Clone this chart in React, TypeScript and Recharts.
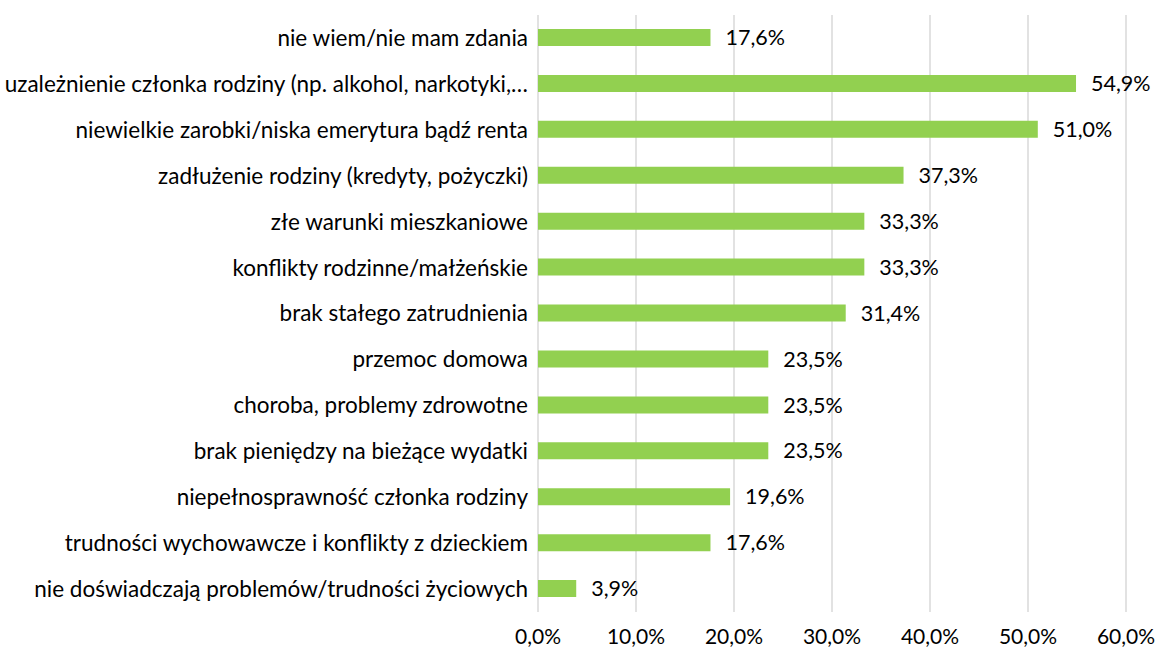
import { BarChart, Bar, XAxis, YAxis, CartesianGrid, LabelList } from 'recharts';

const categories = [
  'nie wiem/nie mam zdania',
  'uzależnienie członka rodziny (np. alkohol, narkotyki,…',
  'niewielkie zarobki/niska emerytura bądź renta',
  'zadłużenie rodziny (kredyty, pożyczki)',
  'złe warunki mieszkaniowe',
  'konflikty rodzinne/małżeńskie',
  'brak stałego zatrudnienia',
  'przemoc domowa',
  'choroba, problemy zdrowotne',
  'brak pieniędzy na bieżące wydatki',
  'niepełnosprawność członka rodziny',
  'trudności wychowawcze i konflikty z dzieckiem',
  'nie doświadczają problemów/trudności życiowych',
];

const values = [17.6, 54.9, 51.0, 37.3, 33.3, 33.3, 31.4, 23.5, 23.5, 23.5, 19.6, 17.6, 3.9];

const xTicks = [0, 10, 20, 30, 40, 50, 60];

const data = categories.map((name, i) => ({ name, value: values[i] }));

const pct = (v: number) => `${v.toFixed(1).replace('.', ',')}%`;

const FONT = 'Lato, "Open Sans", sans-serif';

export default function App() {
  return (
    <div style={{ position: 'absolute', left: 0, top: 0, background: '#fff', fontFamily: FONT }}>
      <BarChart
        width={1158}
        height={653}
        data={data}
        layout="vertical"
        margin={{ top: 15, right: 32, bottom: 0, left: 0 }}
        barCategoryGap={0}
      >
        <CartesianGrid horizontal={false} stroke="#d9d9d9" strokeWidth={1.5} />
        <XAxis
          type="number"
          domain={[0, 60]}
          ticks={xTicks}
          tickFormatter={pct}
          axisLine={false}
          tickLine={false}
          tickSize={0}
          tickMargin={17}
          height={41}
          tick={{ fill: '#000', fontSize: 21, fontFamily: FONT }}
        />
        <YAxis
          type="category"
          dataKey="name"
          width={538}
          axisLine={false}
          tickLine={false}
          tickSize={0}
          tickMargin={10}
          interval={0}
          tick={{ fill: '#000', fontSize: 22.5, fontFamily: FONT }}
        />
        <Bar dataKey="value" fill="#92d050" barSize={17} isAnimationActive={false}>
          <LabelList
            dataKey="value"
            position="right"
            offset={15}
            formatter={(v: any) => pct(Number(v))}
            style={{ fill: '#000', fontSize: 21.5, fontFamily: FONT }}
          />
        </Bar>
      </BarChart>
    </div>
  );
}
